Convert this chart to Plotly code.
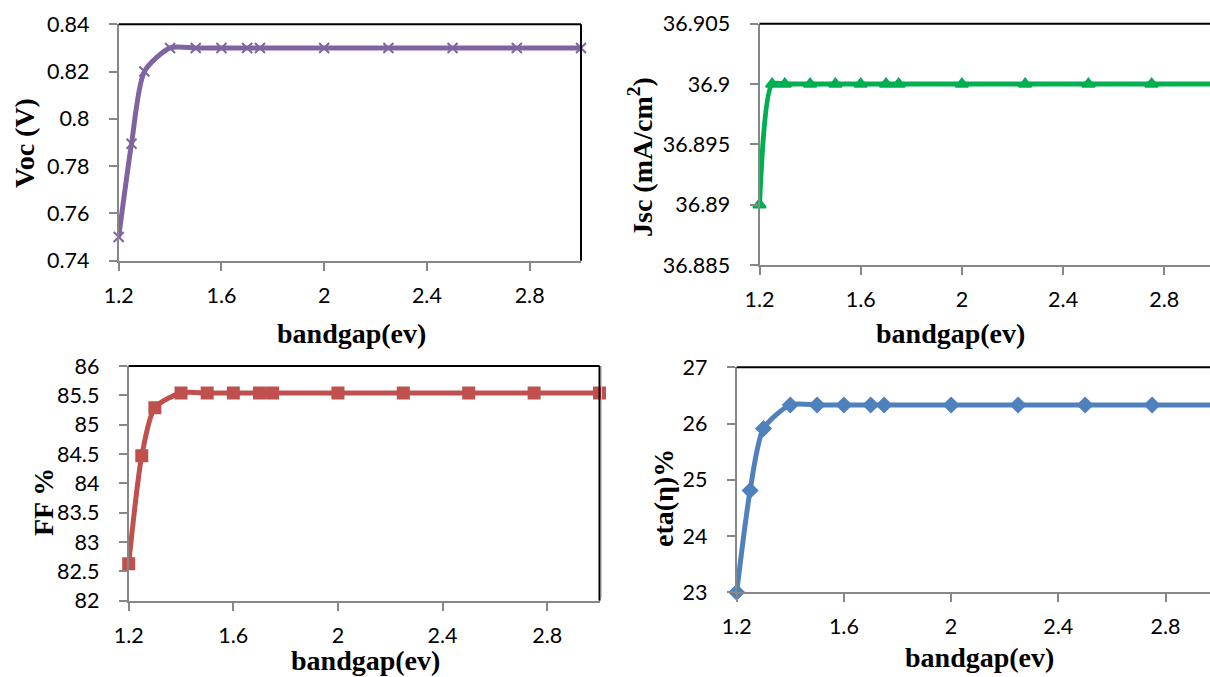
import plotly.graph_objects as go

# ---------------- data ----------------
bandgap = [1.2, 1.25, 1.3, 1.4, 1.5, 1.6, 1.7, 1.75, 2.0, 2.25, 2.5, 2.75, 3.0]
voc = [0.750, 0.7895, 0.820, 0.830, 0.830, 0.830, 0.830, 0.830, 0.830, 0.830, 0.830, 0.830, 0.830]
jsc = [36.890, 36.900, 36.900, 36.900, 36.900, 36.900, 36.900, 36.900, 36.900, 36.900, 36.900, 36.900, 36.900]
ff = [82.63, 84.47, 85.29, 85.54, 85.54, 85.54, 85.54, 85.54, 85.54, 85.54, 85.54, 85.54, 85.54]
eta = [23.00, 24.81, 25.91, 26.33, 26.33, 26.33, 26.33, 26.33, 26.33, 26.33, 26.33, 26.33, 26.33]

x_tickvals = [1.2, 1.6, 2.0, 2.4, 2.8]
x_ticktext = ["1.2", "1.6", "2", "2.4", "2.8"]
voc_tickvals = [0.74, 0.76, 0.78, 0.80, 0.82, 0.84]
voc_ticktext = ["0.74", "0.76", "0.78", "0.8", "0.82", "0.84"]
jsc_tickvals = [36.885, 36.89, 36.895, 36.9, 36.905]
jsc_ticktext = ["36.885", "36.89", "36.895", "36.9", "36.905"]
ff_tickvals = [82, 82.5, 83, 83.5, 84, 84.5, 85, 85.5, 86]
ff_ticktext = ["82", "82.5", "83", "83.5", "84", "84.5", "85", "85.5", "86"]
eta_tickvals = [23, 24, 25, 26, 27]
eta_ticktext = ["23", "24", "25", "26", "27"]

x_title = "bandgap(ev)"
titles_y = ["Voc (V)", "Jsc (mA/cm<sup>2</sup>)", "FF %", "eta(η)%"]

# ---------------- layout helpers ----------------
W, H = 1210, 677
def px(x):
    return x / W
def py(y):
    return 1 - y / H

TICK_FONT = dict(family="Lato, Open Sans, sans-serif", size=21.5, color="black")
TITLE_FONT = dict(family="Liberation Serif, Times New Roman, serif", size=28, color="black")
AXIS_GRAY = "#878787"

panels = [
    dict(l=118.7, r=581.0, t=24.3, b=260.7, xr=[1.2, 3.0], yr=[0.74, 0.84], y=voc,
         tv=voc_tickvals, tt=voc_ticktext, color="#8064A2", symbol="x-thin", msize=10, right=True),
    dict(l=759.5, r=1210.0, t=23.7, b=265.0, xr=[1.2, 1.2 + 450.5 / 253.0], yr=[36.885, 36.905], y=jsc,
         tv=jsc_tickvals, tt=jsc_ticktext, color="#00B050", symbol="triangle-up", msize=11, right=False),
    dict(l=128.7, r=599.5, t=366.0, b=600.7, xr=[1.2, 3.0], yr=[82, 86], y=ff,
         tv=ff_tickvals, tt=ff_ticktext, color="#C0504D", symbol="square", msize=11, right=True),
    dict(l=736.7, r=1210.0, t=367.3, b=592.3, xr=[1.2, 1.2 + 473.3 / 268.0], yr=[23, 27], y=eta,
         tv=eta_tickvals, tt=eta_ticktext, color="#4F81BD", symbol="diamond", msize=11, right=False),
]

fig = go.Figure()
shapes = []
for i, p in enumerate(panels):
    k = "" if i == 0 else str(i + 1)
    fig.add_trace(go.Scatter(
        x=bandgap, y=p["y"], mode="lines+markers",
        line=dict(color=p["color"], width=5, shape="spline", smoothing=0.7),
        marker=dict(symbol=p["symbol"], size=p["msize"], color=p["color"],
                    line=dict(color=p["color"], width=2)),
        xaxis="x" + k, yaxis="y" + k, cliponaxis=False, showlegend=False,
    ))
    fig.layout["xaxis" + k] = dict(
        domain=[px(p["l"]), px(p["r"])], range=p["xr"], anchor="y" + k, automargin=False,
        tickmode="array", tickvals=x_tickvals, ticktext=x_ticktext,
        showgrid=False, zeroline=False, showline=True, linecolor=AXIS_GRAY, linewidth=2,
        ticks="outside", ticklen=8, tickwidth=2, tickcolor=AXIS_GRAY,
        tickfont=TICK_FONT, ticklabelstandoff=6,
    )
    fig.layout["yaxis" + k] = dict(
        domain=[py(p["b"]), py(p["t"])], range=p["yr"], anchor="x" + k, automargin=False,
        tickmode="array", tickvals=p["tv"], ticktext=p["tt"],
        showgrid=False, zeroline=False, showline=True, linecolor=AXIS_GRAY, linewidth=2,
        ticks="outside", ticklen=8, tickwidth=2, tickcolor=AXIS_GRAY,
        tickfont=TICK_FONT, ticklabelstandoff=15,
    )
    shapes.append(dict(type="line", xref="paper", yref="paper",
                       x0=px(p["l"]), x1=px(p["r"]), y0=py(p["t"]), y1=py(p["t"]),
                       line=dict(color="black", width=2)))
    if p["right"]:
        shapes.append(dict(type="line", xref="paper", yref="paper",
                           x0=px(p["r"]), x1=px(p["r"]), y0=py(p["t"]), y1=py(p["b"]),
                           line=dict(color="black", width=2)))

shapes.append(dict(type="line", xref="paper", yref="paper",
                   x0=px(601.5), x1=px(601.5), y0=py(366), y1=py(598),
                   line=dict(color="#C8C8C8", width=1)))

annotations = []
for cx, cy in [(351, 333), (950, 333), (365, 660), (979, 657)]:
    annotations.append(dict(text="<b>" + x_title + "</b>", x=px(cx), y=py(cy), xref="paper", yref="paper",
                            showarrow=False, font=TITLE_FONT, xanchor="center", yanchor="middle"))
for t, (cx, cy) in zip(titles_y, [(24, 143), (640, 157), (43, 502), (663, 498)]):
    annotations.append(dict(text="<b>" + t + "</b>", x=px(cx), y=py(cy), xref="paper", yref="paper",
                            showarrow=False, font=TITLE_FONT, textangle=-90,
                            xanchor="center", yanchor="middle"))

fig.update_layout(
    width=W, height=H, margin=dict(l=0, r=0, t=0, b=0),
    paper_bgcolor="white", plot_bgcolor="white",
    shapes=shapes, annotations=annotations,
)

fig.write_html("out.html")
